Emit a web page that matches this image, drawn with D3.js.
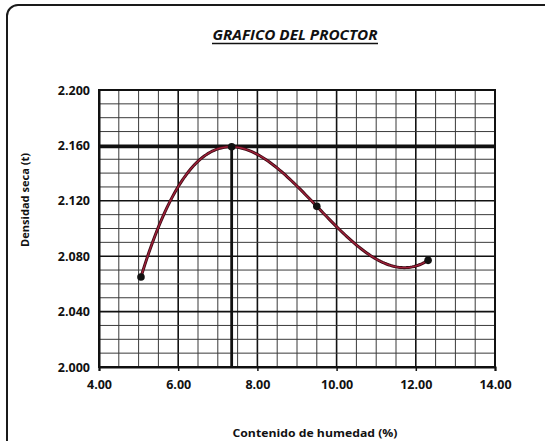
<!DOCTYPE html>
<html><head><meta charset="utf-8">
<script src="https://cdn.jsdelivr.net/npm/d3@7"></script>
<style>body{margin:0;background:#fff}svg{display:block}text{font-family:"Open Sans",sans-serif;fill:#111}</style>
</head><body><svg id="c" width="545" height="441"></svg>
<script>
const humedad = [5.06, 7.35, 9.50, 12.31];
const densidad = [2.065, 2.159, 2.116, 2.077];
const xTicks = [4, 6, 8, 10, 12, 14];
const yTicks = [2.000, 2.040, 2.080, 2.120, 2.160, 2.200];
const optimo = {x: 7.35, y: 2.159};
const title = "GRAFICO DEL PROCTOR";
const xTitle = "Contenido de humedad (%)";
const yTitle = "Densidad seca (t)";

const svg = d3.select("#c");
const x = d3.scaleLinear().domain([4, 14]).range([99, 495]);
const y = d3.scaleLinear().domain([2.0, 2.2]).range([367, 90]);

// outer rounded frame
svg.append("rect").attr("x", 7).attr("y", 5).attr("width", 560).attr("height", 460)
  .attr("rx", 11).attr("fill", "none").attr("stroke", "#1a1a1a").attr("stroke-width", 2);

// grid
const g = svg.append("g");
d3.range(4, 14.01, 0.5).forEach(v => {
  const major = Math.abs(v - Math.round(v / 2) * 2) < 1e-6;
  g.append("line").attr("x1", x(v)).attr("x2", x(v)).attr("y1", y(2.0)).attr("y2", y(2.2))
    .attr("stroke", major ? "#111" : "#3a3a3a").attr("stroke-width", major ? 1.6 : 1);
});
d3.range(0, 21).forEach(i => {
  const v = 2.0 + i * 0.01;
  const major = i % 4 === 0;
  g.append("line").attr("x1", x(4)).attr("x2", x(14)).attr("y1", y(v)).attr("y2", y(v))
    .attr("stroke", major ? "#111" : "#3a3a3a").attr("stroke-width", major ? 1.6 : 1);
});
// plot border
svg.append("rect").attr("x", x(4)).attr("y", y(2.2)).attr("width", x(14) - x(4)).attr("height", y(2.0) - y(2.2))
  .attr("fill", "none").attr("stroke", "#111").attr("stroke-width", 2);

// axes
const xa = svg.append("g").attr("transform", `translate(0,${y(2.0)})`)
  .call(d3.axisBottom(x).tickValues(xTicks).tickFormat(d3.format(".2f")).tickSize(4).tickPadding(9));
const ya = svg.append("g").attr("transform", `translate(${x(4)},0)`)
  .call(d3.axisLeft(y).tickValues(yTicks).tickFormat(d3.format(".3f")).tickSize(0).tickPadding(9));
[xa, ya].forEach(a => {
  a.select(".domain").attr("stroke", "#111").attr("stroke-width", 2);
  a.selectAll("line").attr("stroke", "#111").attr("stroke-width", 1.5);
  a.selectAll("text").attr("font-size", 12.5).attr("font-weight", 700).attr("fill", "#111")
    .attr("letter-spacing", "0");
});

// optimum lines
svg.append("line").attr("x1", x(4)).attr("x2", x(14)).attr("y1", y(optimo.y)).attr("y2", y(optimo.y))
  .attr("stroke", "#111").attr("stroke-width", 2.8);
svg.append("line").attr("x1", x(optimo.x)).attr("x2", x(optimo.x)).attr("y1", y(2.0)).attr("y2", y(optimo.y))
  .attr("stroke", "#111").attr("stroke-width", 2.8);

// cubic trendline through the points (Lagrange)
function poly(t) {
  let s = 0;
  for (let i = 0; i < humedad.length; i++) {
    let p = densidad[i];
    for (let j = 0; j < humedad.length; j++) if (j !== i) p *= (t - humedad[j]) / (humedad[i] - humedad[j]);
    s += p;
  }
  return s;
}
const xs = d3.range(humedad[0], humedad[3] + 0.001, 0.05);
const line = d3.line().x(d => x(d)).y(d => y(poly(d))).curve(d3.curveLinear);
svg.append("path").datum(xs).attr("d", line).attr("fill", "none")
  .attr("stroke", "#3a0a12").attr("stroke-width", 3);
svg.append("path").datum(xs).attr("d", line).attr("fill", "none")
  .attr("stroke", "#a0203a").attr("stroke-width", 1.4);

// markers
svg.selectAll("circle.pt").data(humedad).join("circle").attr("class", "pt")
  .attr("cx", d => x(d)).attr("cy", (d, i) => y(densidad[i])).attr("r", 3.8).attr("fill", "#111");

// title
svg.append("text").attr("x", 295).attr("y", 40).attr("text-anchor", "middle")
  .attr("font-size", 13.5).attr("font-weight", 700).attr("font-style", "italic")
  .attr("textLength", 165).attr("lengthAdjust", "spacingAndGlyphs").text(title);
svg.append("line").attr("x1", 295 - 83).attr("x2", 295 + 83).attr("y1", 43.5).attr("y2", 43.5)
  .attr("stroke", "#111").attr("stroke-width", 1.3);

// axis titles
svg.append("text").attr("x", 315).attr("y", 437).attr("text-anchor", "middle")
  .attr("font-size", 11).attr("font-weight", 700).attr("textLength", 165)
  .attr("lengthAdjust", "spacingAndGlyphs").text(xTitle);
svg.append("text").attr("transform", "translate(29,200) rotate(-90)").attr("text-anchor", "middle")
  .attr("font-size", 11).attr("font-weight", 700).attr("textLength", 94)
  .attr("lengthAdjust", "spacingAndGlyphs").text(yTitle);
</script></body></html>
